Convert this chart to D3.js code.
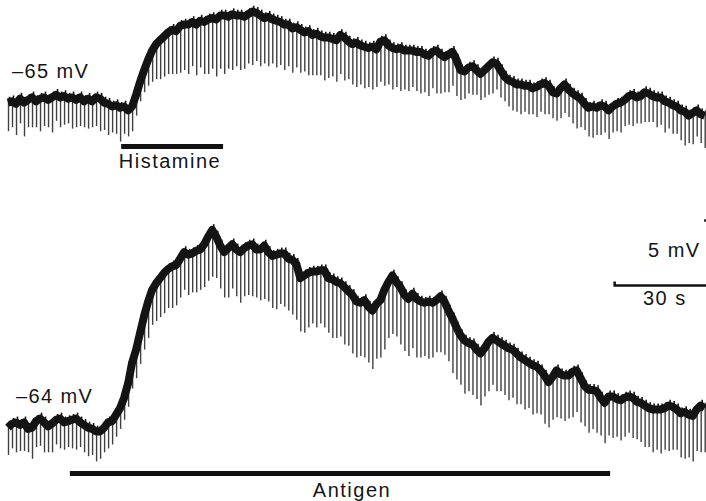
<!DOCTYPE html>
<html>
<head>
<meta charset="utf-8">
<script src="https://cdn.jsdelivr.net/npm/d3@7"></script>
<style>
  html, body { margin: 0; padding: 0; background: #fff; }
  svg { display: block; }
  text { font-family: "Liberation Sans", Arial, Helvetica, sans-serif; fill: #151515; }
</style>
</head>
<body>
<svg id="chart" width="706" height="501"></svg>
<script>
// ---------- DATA ----------
// Hyperpolarising current pulses applied every ~1.32 s.
const pulseInterval = 1.32; // s

// Trace 1 (histamine): membrane potential just before each pulse (mV)
const histamineV = [
  -65.2,-65.1,-65.3,-64.9,-65.2,-65.0,-64.8,-65.1,-64.9,-64.8,
  -65.0,-64.8,-64.6,-64.8,-64.7,-64.9,-64.8,-65.0,-64.8,-65.1,
  -64.9,-65.1,-64.8,-64.9,-65.2,-65.3,-65.5,-65.4,-65.6,-65.5,
  -65.8,-65.5,-64.6,-63.6,-62.7,-61.9,-61.2,-60.7,-60.4,-60.1,
  -59.8,-59.6,-59.7,-59.3,-59.2,-59.2,-59.0,-59.2,-58.9,-59.0,
  -58.8,-58.7,-58.8,-58.5,-58.5,-58.6,-58.4,-58.5,-58.5,-58.6,
  -58.4,-58.2,-58.3,-58.5,-58.7,-58.6,-58.8,-58.9,-59.0,-59.2,
  -59.2,-59.5,-59.4,-59.6,-59.8,-59.7,-60.0,-59.9,-60.1,-60.2,
  -60.2,-60.3,-60.4,-60.0,-60.2,-60.5,-60.7,-60.6,-60.8,-60.9,
  -61.0,-60.9,-61.1,-60.5,-60.4,-60.8,-61.0,-61.1,-61.0,-61.2,
  -61.2,-61.2,-61.3,-61.3,-61.5,-61.6,-61.3,-61.2,-61.5,-61.7,
  -61.5,-61.3,-61.9,-62.7,-62.8,-62.5,-62.4,-62.7,-63.0,-62.7,
  -62.4,-62.1,-62.2,-62.7,-63.2,-63.5,-63.6,-63.8,-63.8,-63.9,
  -63.9,-64.1,-64.0,-63.8,-63.7,-63.9,-64.4,-64.5,-64.1,-63.8,
  -64.2,-64.5,-64.7,-64.9,-65.3,-65.6,-65.5,-65.6,-65.4,-65.5,
  -65.8,-65.5,-65.3,-65.2,-65.0,-64.7,-64.6,-64.8,-64.7,-64.4,
  -64.5,-64.7,-64.8,-64.8,-65.1,-65.2,-65.4,-65.5,-65.8,-65.9,
  -66.2,-66.0,-65.8,-66.1,-66.2
];
// Trace 1: electrotonic potential amplitude of each pulse (mV)
const histamineAmp = [
  2.2,2.0,2.4,1.9,2.6,2.1,2.3,2.0,2.5,2.2,
  2.1,2.7,2.0,2.3,2.2,1.9,2.4,2.1,2.2,2.0,
  2.3,2.0,2.2,2.5,2.1,2.4,2.0,2.2,2.6,2.1,
  2.0,1.9,1.6,1.5,1.7,2.0,2.4,2.7,3.0,3.1,
  3.2,3.4,3.3,3.6,3.5,3.8,3.4,3.9,3.6,4.0,
  4.2,3.9,4.4,4.1,4.5,4.0,4.3,3.9,4.2,4.0,
  3.8,4.1,3.7,3.9,3.5,3.8,3.4,3.6,3.3,3.5,
  3.2,3.4,3.1,3.3,3.0,3.4,3.1,3.2,3.0,3.3,
  3.1,2.9,3.2,3.0,3.3,2.9,3.1,3.4,3.0,3.2,
  3.0,3.3,2.9,3.1,3.5,3.0,3.2,2.9,3.3,3.0,
  3.1,2.8,3.0,3.2,2.9,3.1,2.8,3.3,3.0,2.7,
  2.9,2.6,2.8,2.3,2.1,2.0,2.2,1.9,2.0,2.1,
  2.2,2.4,2.0,2.1,1.9,2.0,2.2,2.1,2.3,2.0,
  2.2,2.0,2.3,2.1,2.4,2.2,2.0,2.1,2.3,2.2,
  2.1,2.3,2.5,2.2,2.0,2.2,2.4,2.1,2.3,2.0,
  2.2,2.0,2.1,2.3,2.0,2.2,2.4,2.0,2.1,2.3,
  2.2,2.0,2.3,2.1,2.4,2.0,2.2,2.1,2.3,2.6,
  2.1,2.4,2.0,2.2,2.5
];

// Trace 2 (antigen): membrane potential before each pulse (mV)
const antigenV = [
  -64.2,-63.9,-63.8,-64.0,-63.8,-64.3,-64.2,-63.7,-63.5,-63.8,
  -64.1,-63.9,-63.6,-63.5,-63.8,-63.7,-63.6,-63.5,-63.8,-64.0,
  -64.2,-64.3,-64.5,-64.5,-64.2,-63.8,-63.7,-63.2,-62.7,-61.9,
  -60.8,-59.2,-58.2,-56.9,-55.6,-54.5,-53.6,-53.1,-52.7,-52.3,
  -52.0,-51.8,-51.7,-51.2,-50.7,-50.9,-50.8,-50.6,-50.5,-50.1,
  -49.5,-49.0,-49.5,-50.2,-50.7,-50.4,-50.1,-50.5,-50.7,-50.4,
  -50.2,-50.1,-50.5,-50.5,-50.2,-50.7,-51.0,-50.9,-50.8,-50.8,
  -51.2,-51.3,-51.6,-52.7,-52.5,-52.3,-52.2,-52.2,-52.1,-52.1,
  -52.7,-52.8,-53.0,-53.1,-53.4,-53.7,-54.0,-54.5,-54.6,-54.4,
  -54.9,-55.2,-54.7,-54.4,-53.6,-53.0,-52.5,-53.0,-53.4,-54.0,
  -54.3,-53.9,-54.3,-54.5,-54.6,-54.5,-54.6,-54.4,-54.1,-54.5,
  -55.2,-55.8,-56.5,-57.1,-57.5,-57.7,-57.8,-58.2,-58.5,-58.1,
  -57.6,-57.3,-57.5,-57.7,-57.9,-58.1,-58.2,-58.5,-58.8,-59.0,
  -59.2,-59.4,-59.5,-59.8,-60.2,-60.7,-60.3,-59.8,-60.1,-60.2,
  -60.2,-59.9,-59.8,-60.4,-61.0,-61.3,-61.3,-61.4,-61.9,-62.3,
  -61.8,-61.8,-62.0,-62.1,-61.9,-61.8,-61.9,-62.2,-62.3,-62.5,
  -62.7,-62.8,-62.8,-62.8,-62.7,-62.5,-62.6,-62.8,-63.1,-63.0,
  -63.2,-63.3,-62.8,-62.5,-62.7
];
// Trace 2: electrotonic potential amplitude of each pulse (mV)
const antigenAmp = [
  2.1,1.9,2.3,2.0,2.2,1.8,2.4,2.0,2.1,2.3,
  2.0,2.2,1.9,2.3,2.1,2.0,2.2,2.4,1.9,2.1,
  2.2,2.0,2.3,2.1,1.9,2.0,1.8,1.7,1.6,1.7,
  1.8,2.0,2.2,2.4,2.6,2.8,2.7,2.9,3.0,3.1,
  3.0,3.2,3.1,3.0,2.9,3.1,3.0,3.2,3.1,3.3,
  3.4,3.6,3.2,3.3,3.5,3.8,3.4,3.6,3.9,3.7,
  3.8,4.0,3.7,3.9,4.1,3.8,4.0,4.2,3.9,4.1,
  4.0,4.2,4.3,4.1,4.4,4.2,4.0,4.3,4.1,4.4,
  4.2,4.5,4.3,4.1,4.4,4.2,4.5,4.3,4.1,4.4,
  4.3,4.5,4.2,4.4,4.6,4.3,4.5,4.2,4.4,4.3,
  4.4,4.2,4.5,4.3,4.1,4.4,4.2,4.0,4.3,4.1,
  3.9,4.2,4.0,3.8,4.1,3.7,3.9,3.8,4.0,3.7,
  3.8,3.6,3.9,3.7,3.8,4.0,3.7,3.9,3.6,3.8,
  3.5,3.8,3.6,3.4,3.7,3.5,3.3,3.6,3.4,3.5,
  3.3,3.5,3.2,3.4,3.1,3.3,3.0,3.2,2.9,3.1,
  3.0,3.2,2.9,3.1,3.0,2.8,3.1,2.9,3.0,3.2,
  3.0,3.3,3.1,3.4,3.2,3.5,3.3,3.1,3.4,3.6,
  3.3,3.5,3.2,3.6,3.4
];

// Application periods (s) and labels
const stimLabels = ["Histamine", "Antigen"];
const stimStart  = [37.3, 20.4];
const stimEnd    = [70.9, 198.5];

// Resting potential labels
const restLabels = ["\u201365 mV", "\u201364 mV"];
const restValues = [-65, -64];

// Scale bar
const scaleBarTime = 30;   // s
const scaleBarVolt = 5;    // mV
const scaleBarLabels = ["5 mV", "30 s"];

// ---------- DRAWING ----------
const svg = d3.select("#chart");

const x = d3.scaleLinear().domain([0, 230]).range([8, 8 + 230 * 91 / 30]);
// 13 px per mV for both traces
const yTop = d3.scaleLinear().domain([-65, -60]).range([100, 35]);
const yBot = d3.scaleLinear().domain([-64, -59]).range([425, 360]);

function drawTrace(V, Amp, y) {
  const g = svg.append("g");
  const pts = V.map((v, i) => ({ t: i * pulseInterval, v: v, a: Amp[i] }));
  // electrotonic pulses (thin downward deflections)
  g.selectAll("line.pulse").data(pts).enter().append("line")
    .attr("class", "pulse")
    .attr("x1", d => x(d.t) + 0.5).attr("x2", d => x(d.t) + 0.5)
    .attr("y1", d => y(d.v + 0.25))
    .attr("y2", d => y(d.v - d.a))
    .attr("stroke", "#404040")
    .attr("stroke-width", 1.4);
  // thick membrane potential band
  const line = d3.line().x(d => x(d.t)).y(d => y(d.v)).curve(d3.curveLinear);
  g.append("path").datum(pts)
    .attr("d", line)
    .attr("fill", "none")
    .attr("stroke", "#141414")
    .attr("stroke-width", 8)
    .attr("stroke-linejoin", "round")
    .attr("stroke-linecap", "butt");
  // small upward noise at pulse onsets
  g.selectAll("line.tip").data(pts).enter().append("line")
    .attr("x1", d => x(d.t) + 1.5).attr("x2", d => x(d.t) + 1.5)
    .attr("y1", d => y(d.v))
    .attr("y2", d => y(d.v + 0.45))
    .attr("stroke", "#141414")
    .attr("stroke-width", 1.6);
}

drawTrace(histamineV, histamineAmp, yTop);
drawTrace(antigenV, antigenAmp, yBot);

// Resting potential labels
const labelFont = 20;
svg.append("text").attr("x", 12).attr("y", 78)
  .attr("font-size", labelFont).attr("letter-spacing", 1.4).text(restLabels[0]);
svg.append("text").attr("x", 16).attr("y", 403)
  .attr("font-size", labelFont).attr("letter-spacing", 1.4).text(restLabels[1]);

// Drug application bars
const barY = [146.5, 473.5];
const labX = [170, 352];
const labY = [168, 497];
[0, 1].forEach(k => {
  svg.append("line")
    .attr("x1", x(stimStart[k])).attr("x2", x(stimEnd[k]))
    .attr("y1", barY[k]).attr("y2", barY[k])
    .attr("stroke", "#111").attr("stroke-width", 5);
  svg.append("text")
    .attr("x", labX[k])
    .attr("y", labY[k])
    .attr("text-anchor", "middle")
    .attr("font-size", labelFont).attr("letter-spacing", 1.5)
    .text(stimLabels[k]);
});

// Scale bar (vertical limb falls just beyond the right edge)
const sbX1 = x(230 - scaleBarTime), sbX2 = x(230);
const sbY = 285.5;
const sbTop = sbY - (yBot(-64) - yBot(-64 + scaleBarVolt));
svg.append("path")
  .attr("d", `M${sbX1},${sbY - 4} L${sbX1},${sbY} L${sbX2 + 3},${sbY} L${sbX2 + 3},${sbTop} L${sbX2 - 1.5},${sbTop}`)
  .attr("fill", "none").attr("stroke", "#111").attr("stroke-width", 2.5);
svg.append("text").attr("x", 648).attr("y", 257)
  .attr("font-size", labelFont).attr("letter-spacing", 1.5).text(scaleBarLabels[0]);
svg.append("text").attr("x", 643).attr("y", 305)
  .attr("font-size", labelFont).attr("letter-spacing", 1.5).text(scaleBarLabels[1]);
</script>
</body>
</html>
